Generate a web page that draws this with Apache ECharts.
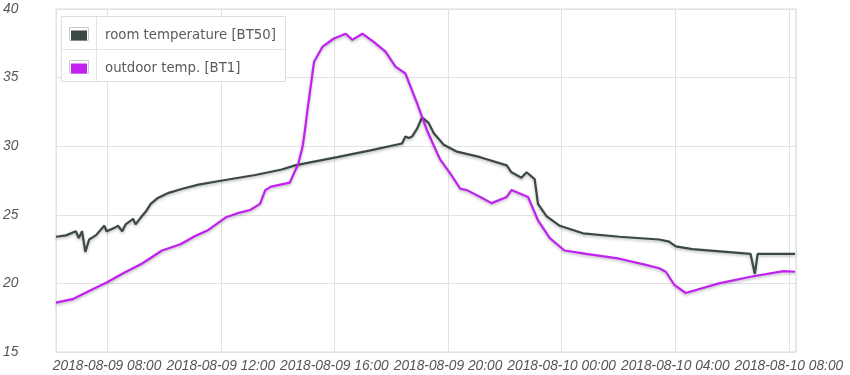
<!DOCTYPE html>
<html>
<head>
<meta charset="utf-8">
<script src="https://cdn.jsdelivr.net/npm/echarts@6/dist/echarts.min.js"></script>
<style>
html,body{margin:0;padding:0;background:#fff;}
#chart{width:850px;height:375px;}
</style>
</head>
<body>
<div id="chart"></div>
<script>
const seriesNames = ['room temperature [BT50]', 'outdoor temp. [BT1]'];
const seriesColors = ['#3b4845', '#c120f0'];

const roomTimes = [
 '2018-08-09 06:12','2018-08-09 06:33','2018-08-09 06:54','2018-08-09 07:00','2018-08-09 07:07',
 '2018-08-09 07:14','2018-08-09 07:22','2018-08-09 07:36','2018-08-09 07:54','2018-08-09 07:59',
 '2018-08-09 08:18','2018-08-09 08:23','2018-08-09 08:32','2018-08-09 08:39','2018-08-09 08:55',
 '2018-08-09 09:00','2018-08-09 09:11','2018-08-09 09:23','2018-08-09 09:32','2018-08-09 09:46',
 '2018-08-09 10:10','2018-08-09 10:39','2018-08-09 11:13','2018-08-09 12:03','2018-08-09 13:13',
 '2018-08-09 14:09','2018-08-09 14:37','2018-08-09 14:58','2018-08-09 16:06','2018-08-09 17:16',
 '2018-08-09 18:23','2018-08-09 18:30','2018-08-09 18:37','2018-08-09 18:44','2018-08-09 18:55',
 '2018-08-09 19:05','2018-08-09 19:19','2018-08-09 19:30','2018-08-09 19:51','2018-08-09 20:19',
 '2018-08-09 21:08','2018-08-09 22:04','2018-08-09 22:14','2018-08-09 22:35','2018-08-09 22:46',
 '2018-08-09 23:03','2018-08-09 23:10','2018-08-09 23:28','2018-08-09 23:56','2018-08-10 00:45',
 '2018-08-10 02:02','2018-08-10 03:26','2018-08-10 03:47','2018-08-10 04:01','2018-08-10 04:36',
 '2018-08-10 06:39','2018-08-10 06:48','2018-08-10 06:54','2018-08-10 08:13'
];
const roomValues = [
 23.4,23.5,23.8,23.3,23.8,
 22.3,23.2,23.5,24.2,23.8,
 24.1,24.2,23.8,24.3,24.7,
 24.3,24.8,25.3,25.8,26.2,
 26.6,26.9,27.2,27.5,27.9,
 28.3,28.6,28.75,29.2,29.7,
 30.2,30.7,30.6,30.7,31.3,
 32.1,31.7,30.95,30.1,29.6,
 29.2,28.6,28.1,27.7,28.1,
 27.6,25.8,24.9,24.2,23.65,
 23.4,23.2,23.05,22.7,22.5,
 22.15,20.7,22.15,22.15
];

const outdoorTimes = [
 '2018-08-09 06:12','2018-08-09 06:47','2018-08-09 07:22','2018-08-09 08:01','2018-08-09 08:32',
 '2018-08-09 09:14','2018-08-09 09:56','2018-08-09 10:35','2018-08-09 11:06','2018-08-09 11:34',
 '2018-08-09 12:10','2018-08-09 12:34','2018-08-09 13:02','2018-08-09 13:23','2018-08-09 13:34',
 '2018-08-09 13:46','2018-08-09 14:26','2018-08-09 14:44','2018-08-09 14:53','2018-08-09 14:58',
 '2018-08-09 15:03','2018-08-09 15:17','2018-08-09 15:35','2018-08-09 15:59','2018-08-09 16:24',
 '2018-08-09 16:38','2018-08-09 16:59','2018-08-09 17:23','2018-08-09 17:48','2018-08-09 18:09',
 '2018-08-09 18:30','2018-08-09 18:55','2018-08-09 19:15','2018-08-09 19:37','2018-08-09 19:44',
 '2018-08-09 20:05','2018-08-09 20:26','2018-08-09 20:40','2018-08-09 21:08','2018-08-09 21:32',
 '2018-08-09 22:04','2018-08-09 22:14','2018-08-09 22:49','2018-08-09 23:10','2018-08-09 23:35',
 '2018-08-10 00:06','2018-08-10 00:52','2018-08-10 02:02','2018-08-10 02:58','2018-08-10 03:26',
 '2018-08-10 03:40','2018-08-10 03:58','2018-08-10 04:22','2018-08-10 05:32','2018-08-10 06:42',
 '2018-08-10 07:49','2018-08-10 08:13'
];
const outdoorValues = [
 18.6,18.85,19.45,20.1,20.7,
 21.45,22.4,22.85,23.45,23.9,
 24.8,25.1,25.35,25.8,26.8,
 27.05,27.35,28.75,30.0,31.2,
 32.6,36.15,37.25,37.85,38.2,
 37.75,38.2,37.6,36.9,35.8,
 35.3,33.1,31.2,29.5,29.0,
 28.0,26.9,26.8,26.3,25.85,
 26.3,26.8,26.3,24.6,23.3,
 22.4,22.15,21.8,21.35,21.1,
 20.85,19.9,19.3,20.0,20.5,
 20.9,20.85
];

const xMin = '2018-08-09 06:12';
const xMax = '2018-08-10 08:15';
const yTicks = [15, 20, 25, 30, 35, 40];

function pairs(ts, vs) { return ts.map((t, i) => [t, vs[i]]); }

const chart = echarts.init(document.getElementById('chart'), null, {renderer: 'canvas'});
const lineShadow = {shadowColor: 'rgba(0,0,0,0.28)', shadowBlur: 3, shadowOffsetY: 1.5};
const HOUR4 = 4 * 3600 * 1000;

chart.setOption({
  animation: false,
  backgroundColor: '#fff',
  grid: {left: 54, top: 9, right: 54, bottom: 23, show: true, borderColor: '#d9d9d9', borderWidth: 1, containLabel: false},
  xAxis: {
    type: 'time', min: xMin, max: xMax,
    minInterval: HOUR4, maxInterval: HOUR4,
    axisLine: {show: false}, axisTick: {show: false},
    splitLine: {show: true, lineStyle: {color: '#e2e2e2', width: 1}},
    axisLabel: {
      formatter: '{yyyy}-{MM}-{dd} {HH}:{mm}',
      fontFamily: 'Liberation Sans, Arial, sans-serif', fontStyle: 'italic', fontSize: 13.75,
      color: '#555', margin: 7, showMinLabel: false, showMaxLabel: false, hideOverlap: false
    }
  },
  yAxis: {
    type: 'value', min: yTicks[0], max: yTicks[yTicks.length - 1], interval: 5,
    axisLine: {show: false}, axisTick: {show: false},
    splitLine: {show: true, lineStyle: {color: '#e2e2e2', width: 1}},
    axisLabel: {
      align: 'left', margin: 53,
      fontFamily: 'Liberation Sans, Arial, sans-serif', fontStyle: 'italic', fontSize: 13.75,
      color: '#555'
    }
  },
  graphic: [
    {type: 'rect', z: 5, shape: {x: 61.5, y: 16.5, width: 224, height: 65}, style: {fill: '#fff', stroke: '#dedede', lineWidth: 1}},
    {type: 'line', z: 5, shape: {x1: 62, y1: 49.5, x2: 285, y2: 49.5}, style: {stroke: '#e4e4e4', lineWidth: 1}},
    {type: 'line', z: 5, shape: {x1: 96.5, y1: 17, x2: 96.5, y2: 81}, style: {stroke: '#e4e4e4', lineWidth: 1}},
    {type: 'rect', z: 5, shape: {x: 69.5, y: 27.5, width: 19, height: 13}, style: {fill: '#fff', stroke: '#cccccc', lineWidth: 1}},
    {type: 'rect', z: 5, shape: {x: 69.5, y: 60.5, width: 19, height: 13}, style: {fill: '#fff', stroke: '#cccccc', lineWidth: 1}}
  ],
  legend: {
    z: 10, orient: 'vertical', left: 71, top: 29, padding: 0,
    itemWidth: 16, itemHeight: 10, itemGap: 20, icon: 'rect', selectedMode: false,
    textStyle: {fontFamily: 'DejaVu Sans, sans-serif', fontSize: 13.3, color: '#5a5a5a', lineHeight: 10, height: 10, padding: [0, 0, 0, 13]},
    itemStyle: {borderWidth: 0},
    data: seriesNames
  },
  series: [
    {name: seriesNames[0], type: 'line', data: pairs(roomTimes, roomValues), showSymbol: false,
     color: seriesColors[0], lineStyle: Object.assign({width: 2.2, color: seriesColors[0]}, lineShadow)},
    {name: seriesNames[1], type: 'line', data: pairs(outdoorTimes, outdoorValues), showSymbol: false,
     color: seriesColors[1], lineStyle: Object.assign({width: 2.2, color: seriesColors[1]}, lineShadow)}
  ]
});
</script>
</body>
</html>
